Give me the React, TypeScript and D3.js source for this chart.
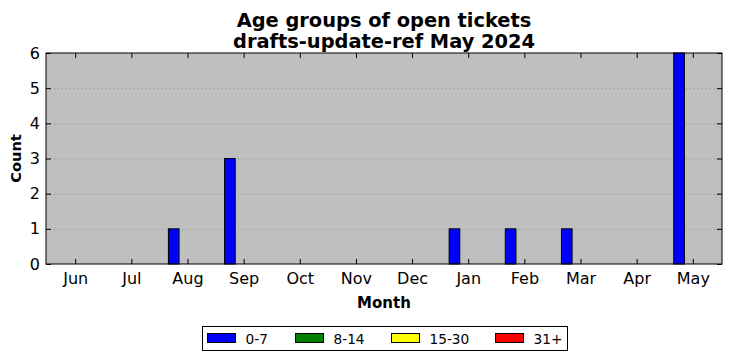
import React, { useEffect, useRef } from 'react';
import * as d3 from 'd3';

const months = ['Jun', 'Jul', 'Aug', 'Sep', 'Oct', 'Nov', 'Dec', 'Jan', 'Feb', 'Mar', 'Apr', 'May'];
const groups = ['0-7', '8-14', '15-30', '31+'];
const groupColors = ['#0000ff', '#008000', '#ffff00', '#ff0000'];
const counts0to7 = [0, 0, 1, 3, 0, 0, 0, 1, 1, 1, 0, 6];
const counts8to14 = [0, 0, 0, 0, 0, 0, 0, 0, 0, 0, 0, 0];
const counts15to30 = [0, 0, 0, 0, 0, 0, 0, 0, 0, 0, 0, 0];
const counts31plus = [0, 0, 0, 0, 0, 0, 0, 0, 0, 0, 0, 0];
const yTicks = [0, 1, 2, 3, 4, 5, 6];
const titleLines = ['Age groups of open tickets', 'drafts-update-ref May 2024'];

export default function App() {
  const ref = useRef<SVGSVGElement>(null);

  useEffect(() => {
    document.body.style.margin = '0';
    const W = 732, H = 361;
    const margin = { top: 53, right: 10, bottom: 97, left: 46 };
    const width = W - margin.left - margin.right;
    const height = H - margin.top - margin.bottom;
    const font = 'DejaVu Sans, sans-serif';

    const svgRoot = d3.select(ref.current);
    svgRoot.selectAll('*').remove();
    svgRoot.append('rect').attr('width', W).attr('height', H).attr('fill', '#fff');

    const x = d3.scaleLinear().domain([-0.52, months.length - 0.48]).range([0, width]);
    const y = d3.scaleLinear().domain([0, 6]).range([height, 0]);

    const svg = svgRoot.append('g').attr('transform', `translate(${margin.left},${margin.top})`);
    svg.append('rect').attr('width', width).attr('height', height).attr('fill', '#bfbfbf');

    // dotted horizontal grid
    svg.append('g')
      .call(d3.axisLeft(y).tickValues(yTicks.slice(1, -1)).tickSize(-width).tickFormat(() => ''))
      .call(g => g.select('.domain').remove())
      .selectAll('line')
      .attr('stroke', '#8c8c8c')
      .attr('stroke-dasharray', '1,3');

    // bars, 4 per month, only 0-7 has data
    const series = [counts0to7, counts8to14, counts15to30, counts31plus];
    const barW = 0.19;
    const offset0 = -0.34;
    series.forEach((vals, si) => {
      svg.selectAll(`.bar${si}`)
        .data(vals)
        .enter().append('rect')
        .attr('x', (d, i) => x(i + offset0 + si * barW))
        .attr('width', x(barW) - x(0))
        .attr('y', d => y(d))
        .attr('height', d => y(0) - y(d))
        .attr('fill', groupColors[si])
        .attr('stroke', '#000')
        .attr('stroke-width', 1);
    });

    // axes with inward ticks
    const xb = svg.append('g').attr('transform', `translate(0,${height})`)
      .call(d3.axisBottom(x).tickValues(d3.range(months.length)).tickSize(-5).tickPadding(9)
        .tickFormat(d => months[d as number]));
    const xt = svg.append('g')
      .call(d3.axisTop(x).tickValues(d3.range(months.length)).tickSize(-5).tickFormat(() => ''));
    const yl = svg.append('g')
      .call(d3.axisLeft(y).tickValues(yTicks).tickSize(-5).tickPadding(6).tickFormat(d3.format('d')));
    const yr = svg.append('g').attr('transform', `translate(${width},0)`)
      .call(d3.axisRight(y).tickValues(yTicks).tickSize(-5).tickFormat(() => ''));
    [xb, xt, yl, yr].forEach(g => {
      g.select('.domain').remove();
      g.selectAll('line').attr('stroke', '#000');
      g.selectAll('text').attr('font-family', font).attr('font-size', 16).attr('fill', '#000');
    });

    svg.append('rect').attr('width', width).attr('height', height)
      .attr('fill', 'none').attr('stroke', '#000').attr('stroke-width', 1);

    // title
    titleLines.forEach((t, i) => {
      svgRoot.append('text')
        .attr('x', margin.left + width / 2).attr('y', 26.5 + i * 21)
        .attr('text-anchor', 'middle')
        .attr('font-family', font).attr('font-weight', 'bold').attr('font-size', 19.4)
        .text(t);
    });

    svgRoot.append('text')
      .attr('x', margin.left + width / 2).attr('y', 308)
      .attr('text-anchor', 'middle')
      .attr('font-family', font).attr('font-weight', 'bold').attr('font-size', 15)
      .text('Month');

    svgRoot.append('text')
      .attr('transform', `translate(21,${margin.top + height / 2}) rotate(-90)`)
      .attr('text-anchor', 'middle')
      .attr('font-family', font).attr('font-weight', 'bold').attr('font-size', 14.6)
      .text('Count');

    // legend
    const legend = svgRoot.append('g').attr('transform', 'translate(202.5,326.5)');
    legend.append('rect').attr('width', 365).attr('height', 24)
      .attr('fill', '#fff').attr('stroke', '#000');
    const itemX = [5, 93, 189, 293];
    groups.forEach((name, i) => {
      legend.append('rect')
        .attr('x', itemX[i]).attr('y', 7).attr('width', 28).attr('height', 9)
        .attr('fill', groupColors[i]).attr('stroke', '#000');
      legend.append('text')
        .attr('x', itemX[i] + 38).attr('y', 17)
        .attr('font-family', font).attr('font-size', 13.7)
        .text(name);
    });
  }, []);

  return <svg ref={ref} width={732} height={361} style={{ display: 'block' }} />;
}
